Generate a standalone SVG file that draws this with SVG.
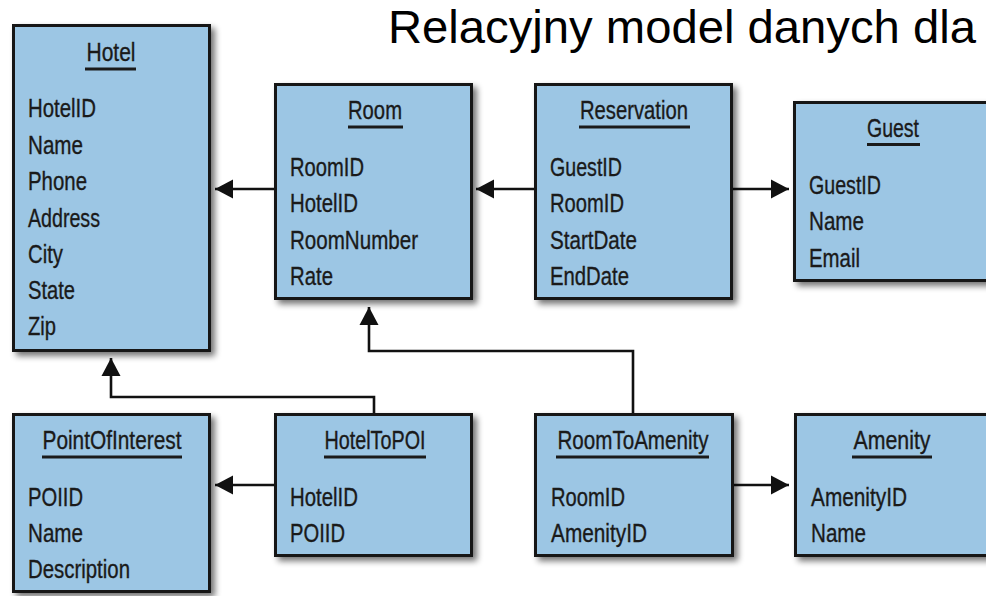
<svg xmlns="http://www.w3.org/2000/svg" width="986" height="596" viewBox="0 0 986 596">
  <defs>
    <filter id="shadow" x="-10%" y="-10%" width="130%" height="130%">
      <feGaussianBlur in="SourceAlpha" stdDeviation="3"/>
      <feOffset dx="4" dy="4" result="blur"/>
      <feComponentTransfer><feFuncA type="linear" slope="0.55"/></feComponentTransfer>
      <feMerge><feMergeNode/><feMergeNode in="SourceGraphic"/></feMerge>
    </filter>
    <marker id="arrow" markerUnits="userSpaceOnUse" markerWidth="19" markerHeight="20" refX="18" refY="9.5" orient="auto" overflow="visible">
      <path d="M0,0 L18,9.5 L0,19 Z" fill="#111"/>
    </marker>
  </defs>
  <style>
    .box { fill: #9cc6e4; stroke: #141414; stroke-width: 3; filter: url(#shadow); }
    .title, .field { font-family: "Liberation Sans", Arial, sans-serif; font-size: 25.5px; fill: #1a1a1a; stroke: #1a1a1a; stroke-width: 0.35; }
    .title { text-anchor: middle; }
    .ul { stroke: #1a1a1a; stroke-width: 3; }
    .conn { fill: none; stroke: #111; stroke-width: 2.6; marker-end: url(#arrow); }
    .heading { font-family: "Liberation Sans", Arial, sans-serif; font-size: 46.5px; fill: #000; }
  </style>

  <rect width="986" height="596" fill="#ffffff"/>

  <text class="heading" x="388" y="42.5" textLength="588" lengthAdjust="spacingAndGlyphs">Relacyjny model danych dla</text>

  <!-- relationships -->
  <g id="connectors">
    <path class="conn" d="M274,189 H215"/>
    <path class="conn" d="M534,189 H476"/>
    <path class="conn" d="M733,189 H789"/>
    <path class="conn" d="M633,413 V351 H369 V307"/>
    <path class="conn" d="M374,413 V397 H111 V358"/>
    <path class="conn" d="M274,485 H215"/>
    <path class="conn" d="M734,485 H789"/>
  </g>

  <g id="hotel">
    <rect class="box" x="13.5" y="25.5" width="196" height="325"/>
    <text class="title" x="111" y="61" textLength="49" lengthAdjust="spacingAndGlyphs">Hotel</text>
    <line class="ul" x1="85" y1="69" x2="136" y2="69"/>
    <text class="field" x="28" y="117" textLength="68" lengthAdjust="spacingAndGlyphs">HotelID</text>
    <text class="field" x="28" y="153.5" textLength="55" lengthAdjust="spacingAndGlyphs">Name</text>
    <text class="field" x="28" y="190" textLength="59" lengthAdjust="spacingAndGlyphs">Phone</text>
    <text class="field" x="28" y="226.5" textLength="72" lengthAdjust="spacingAndGlyphs">Address</text>
    <text class="field" x="28" y="262.5" textLength="35" lengthAdjust="spacingAndGlyphs">City</text>
    <text class="field" x="28" y="299" textLength="47" lengthAdjust="spacingAndGlyphs">State</text>
    <text class="field" x="28" y="335" textLength="28" lengthAdjust="spacingAndGlyphs">Zip</text>
  </g>

  <g id="room">
    <rect class="box" x="275.5" y="84.5" width="196" height="214"/>
    <text class="title" x="375" y="119" textLength="54" lengthAdjust="spacingAndGlyphs">Room</text>
    <line class="ul" x1="348" y1="127" x2="403" y2="127"/>
    <text class="field" x="290" y="176" textLength="74" lengthAdjust="spacingAndGlyphs">RoomID</text>
    <text class="field" x="290" y="212" textLength="68" lengthAdjust="spacingAndGlyphs">HotelID</text>
    <text class="field" x="290" y="248.5" textLength="128" lengthAdjust="spacingAndGlyphs">RoomNumber</text>
    <text class="field" x="290" y="285" textLength="43" lengthAdjust="spacingAndGlyphs">Rate</text>
  </g>

  <g id="reservation">
    <rect class="box" x="535.5" y="84.5" width="196" height="214"/>
    <text class="title" x="634" y="119" textLength="108" lengthAdjust="spacingAndGlyphs">Reservation</text>
    <line class="ul" x1="579" y1="127" x2="690" y2="127"/>
    <text class="field" x="550" y="176" textLength="72" lengthAdjust="spacingAndGlyphs">GuestID</text>
    <text class="field" x="550" y="212" textLength="74" lengthAdjust="spacingAndGlyphs">RoomID</text>
    <text class="field" x="550" y="248.5" textLength="87" lengthAdjust="spacingAndGlyphs">StartDate</text>
    <text class="field" x="550" y="285" textLength="79" lengthAdjust="spacingAndGlyphs">EndDate</text>
  </g>

  <g id="guest">
    <rect class="box" x="794.5" y="102.5" width="197" height="178"/>
    <text class="title" x="893" y="137" textLength="52" lengthAdjust="spacingAndGlyphs">Guest</text>
    <line class="ul" x1="867" y1="144.5" x2="920" y2="144.5"/>
    <text class="field" x="809" y="194" textLength="72" lengthAdjust="spacingAndGlyphs">GuestID</text>
    <text class="field" x="809" y="230" textLength="55" lengthAdjust="spacingAndGlyphs">Name</text>
    <text class="field" x="809" y="266.5" textLength="51" lengthAdjust="spacingAndGlyphs">Email</text>
  </g>

  <g id="point-of-interest">
    <rect class="box" x="13.5" y="414.5" width="196" height="177"/>
    <text class="title" x="112" y="449" textLength="139" lengthAdjust="spacingAndGlyphs">PointOfInterest</text>
    <line class="ul" x1="42" y1="457" x2="182" y2="457"/>
    <text class="field" x="28" y="506" textLength="55" lengthAdjust="spacingAndGlyphs">POIID</text>
    <text class="field" x="28" y="542" textLength="55" lengthAdjust="spacingAndGlyphs">Name</text>
    <text class="field" x="28" y="578" textLength="102" lengthAdjust="spacingAndGlyphs">Description</text>
  </g>

  <g id="hotel-to-poi">
    <rect class="box" x="275.5" y="414.5" width="196" height="141"/>
    <text class="title" x="375" y="449" textLength="101" lengthAdjust="spacingAndGlyphs">HotelToPOI</text>
    <line class="ul" x1="324" y1="457" x2="426" y2="457"/>
    <text class="field" x="290" y="506" textLength="68" lengthAdjust="spacingAndGlyphs">HotelID</text>
    <text class="field" x="290" y="542" textLength="55" lengthAdjust="spacingAndGlyphs">POIID</text>
  </g>

  <g id="room-to-amenity">
    <rect class="box" x="535.5" y="414.5" width="197" height="141"/>
    <text class="title" x="633" y="449" textLength="151" lengthAdjust="spacingAndGlyphs">RoomToAmenity</text>
    <line class="ul" x1="556" y1="457" x2="709" y2="457"/>
    <text class="field" x="551" y="506" textLength="74" lengthAdjust="spacingAndGlyphs">RoomID</text>
    <text class="field" x="551" y="542" textLength="96" lengthAdjust="spacingAndGlyphs">AmenityID</text>
  </g>

  <g id="amenity">
    <rect class="box" x="795.5" y="414.5" width="197" height="141"/>
    <text class="title" x="892" y="449" textLength="77" lengthAdjust="spacingAndGlyphs">Amenity</text>
    <line class="ul" x1="852" y1="457" x2="932" y2="457"/>
    <text class="field" x="811" y="506" textLength="96" lengthAdjust="spacingAndGlyphs">AmenityID</text>
    <text class="field" x="811" y="542" textLength="55" lengthAdjust="spacingAndGlyphs">Name</text>
  </g>
</svg>
